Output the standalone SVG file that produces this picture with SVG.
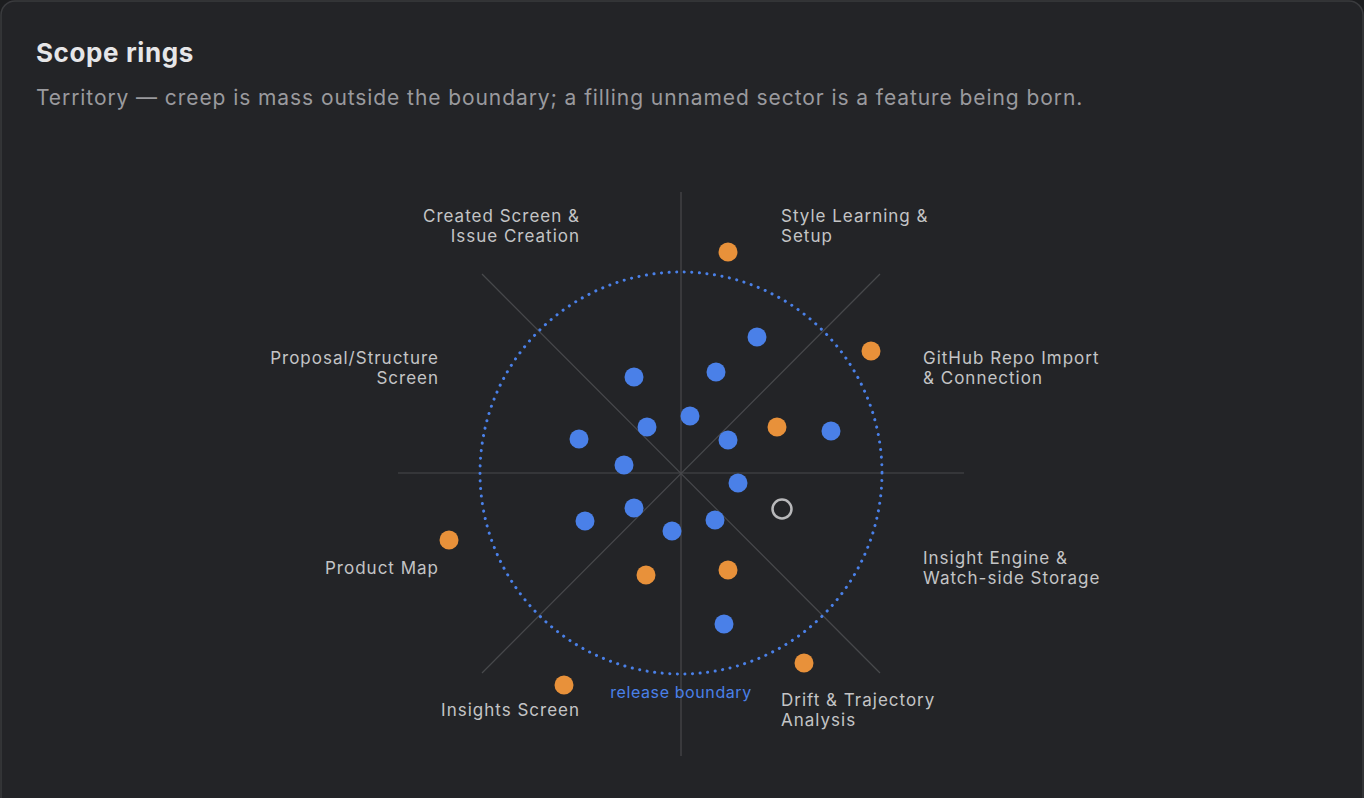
<svg xmlns="http://www.w3.org/2000/svg" width="1364" height="798" viewBox="0 0 1364 798">
<style>
text{font-family:Inter,"Liberation Sans",sans-serif}
.l{font-size:17px;fill:#c4c4c6;letter-spacing:1px}
.r{text-anchor:end}
.b{fill:#4a80e8}
.o{fill:#e8913a}
.ax{stroke:#48494c;stroke-width:1.2}
</style>
<rect x="0" y="0" width="1364" height="798" fill="#1c1d1f"/>
<rect x="1" y="1" width="1362" height="810" rx="14" fill="#232427" stroke="#3a3b3e" stroke-width="1.5"/>
<text x="36" y="62" font-size="26" font-weight="700" fill="#e6e6e8" letter-spacing="0.6">Scope rings</text>
<text x="36" y="105" font-size="21" fill="#9a9a9e" letter-spacing="0.92">Territory — creep is mass outside the boundary; a filling unnamed sector is a feature being born.</text>
<g id="connectors">
<line class="ax" x1="681" y1="192" x2="681" y2="756"/>
<line class="ax" x1="398" y1="473" x2="964" y2="473"/>
<line class="ax" x1="482" y1="274" x2="880" y2="673"/>
<line class="ax" x1="880" y1="274" x2="482" y2="673"/>
<circle cx="681" cy="473" r="201" fill="none" stroke="#4a80e8" stroke-width="3" stroke-dasharray="0.1 7.5" stroke-linecap="round"/>
</g>
<g id="labels">
<text class="l r" x="580" y="222">Created Screen &amp;</text><text class="l r" x="580" y="242">Issue Creation</text>
<text class="l" x="781" y="222">Style Learning &amp;</text><text class="l" x="781" y="242">Setup</text>
<text class="l r" x="439" y="364">Proposal/Structure</text><text class="l r" x="439" y="384">Screen</text>
<text class="l" x="923" y="364">GitHub Repo Import</text><text class="l" x="923" y="384">&amp; Connection</text>
<text class="l r" x="439" y="574">Product Map</text>
<text class="l" x="923" y="564">Insight Engine &amp;</text><text class="l" x="923" y="584">Watch-side Storage</text>
<text class="l r" x="580" y="716">Insights Screen</text>
<text class="l" x="781" y="706">Drift &amp; Trajectory</text><text class="l" x="781" y="726">Analysis</text>
<text x="681" y="698" font-size="16" fill="#4a80e8" text-anchor="middle" letter-spacing="0.6">release boundary</text>
</g>
<g id="dots">
<circle class="b" cx="757" cy="337" r="9.5"/><circle class="b" cx="716" cy="372" r="9.5"/><circle class="b" cx="634" cy="377" r="9.5"/>
<circle class="b" cx="690" cy="416" r="9.5"/><circle class="b" cx="647" cy="427" r="9.5"/><circle class="b" cx="728" cy="440" r="9.5"/>
<circle class="b" cx="579" cy="439" r="9.5"/><circle class="b" cx="831" cy="431" r="9.5"/><circle class="b" cx="624" cy="465" r="9.5"/>
<circle class="b" cx="738" cy="483" r="9.5"/><circle class="b" cx="634" cy="508" r="9.5"/><circle class="b" cx="585" cy="521" r="9.5"/>
<circle class="b" cx="715" cy="520" r="9.5"/><circle class="b" cx="672" cy="531" r="9.5"/><circle class="b" cx="724" cy="624" r="9.5"/>
<circle class="o" cx="728" cy="252" r="9.5"/><circle class="o" cx="871" cy="351" r="9.5"/><circle class="o" cx="777" cy="427" r="9.5"/>
<circle class="o" cx="449" cy="540" r="9.5"/><circle class="o" cx="646" cy="575" r="9.5"/><circle class="o" cx="728" cy="570" r="9.5"/>
<circle class="o" cx="804" cy="663" r="9.5"/><circle class="o" cx="564" cy="685" r="9.5"/>
<circle cx="782" cy="509" r="9.5" fill="none" stroke="#b8b8ba" stroke-width="2.5"/>
</g>
</svg>
